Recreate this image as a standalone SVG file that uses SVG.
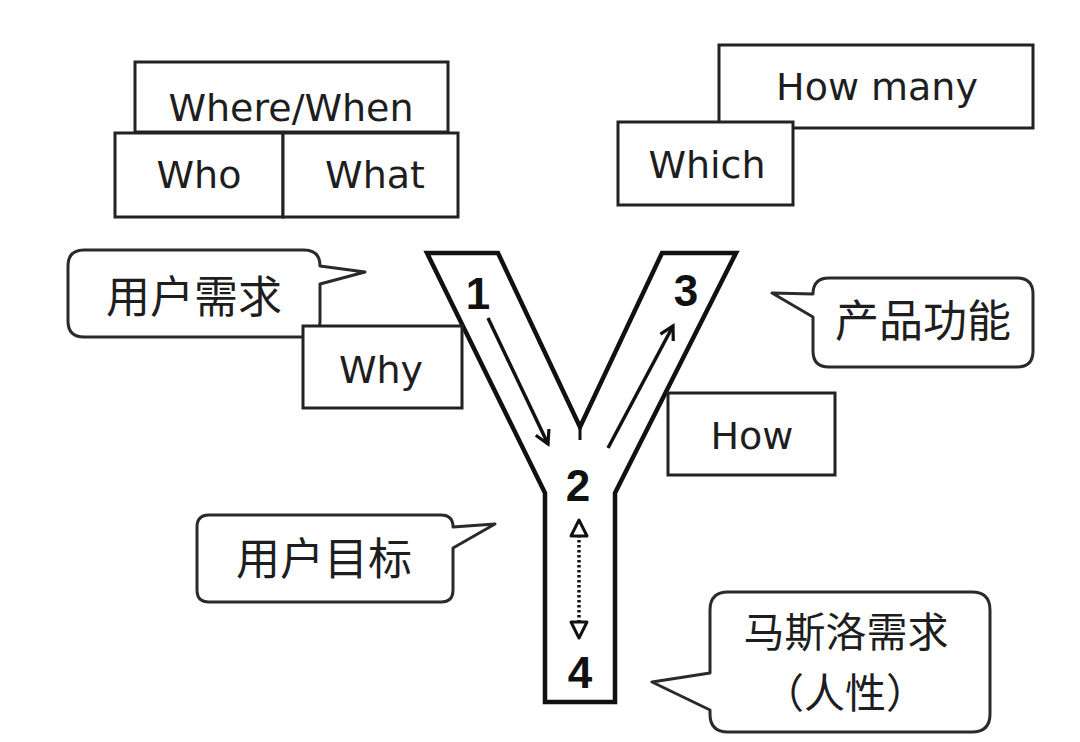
<svg xmlns="http://www.w3.org/2000/svg" width="1080" height="742" viewBox="0 0 1080 742">
<style>
.box{fill:#fff;stroke:#222;stroke-width:3}
.bub{fill:#fff;stroke:#2a2a2a;stroke-width:3;stroke-linejoin:round}
.en{font-family:"DejaVu Sans",Verdana,sans-serif;font-size:38px;fill:#1e1e1e;text-anchor:middle}
.cn{font-family:"Noto Sans CJK SC","Noto Sans",sans-serif;font-size:44px;fill:#1e1e1e;text-anchor:middle}
.cn2{font-family:"Noto Sans CJK SC","Noto Sans",sans-serif;font-size:41px;fill:#1e1e1e;text-anchor:middle}
.num{font-family:"Liberation Sans",Arial,sans-serif;font-weight:bold;font-size:44px;fill:#111;text-anchor:middle}
.arr{stroke:#111;stroke-width:3.5;fill:none}
</style>
<defs>
<marker id="vhead" viewBox="0 0 12 12" refX="10" refY="6" markerWidth="5" markerHeight="5" orient="auto" markerUnits="strokeWidth">
<path d="M1,1 L10,6 L1,11" fill="none" stroke="#111" stroke-width="2.2"/>
</marker>
</defs>
<rect width="1080" height="742" fill="#fff"/>

<g id="where-when"><rect class="box" x="135" y="62" width="313" height="70"/><text class="en" x="291" y="121">Where/When</text></g>
<g id="who"><rect class="box" x="115" y="133" width="168" height="84"/><text class="en" x="199" y="188">Who</text></g>
<g id="what"><rect class="box" x="283" y="133" width="175" height="84"/><text class="en" x="375" y="188">What</text></g>

<g id="how-many"><rect class="box" x="719" y="45" width="314" height="83"/><text class="en" x="877" y="100">How many</text></g>
<g id="which"><rect class="box" x="618" y="122" width="175" height="83"/><text class="en" x="707" y="178">Which</text></g>

<g id="y-shape">
<polygon points="427,253 498,253 580,427 662,253 736,253 615,493 615,702 545,702 545,493" fill="#fff" stroke="#111" stroke-width="4.5" stroke-linejoin="miter"/>
<line x1="580" y1="427" x2="580" y2="440" stroke="#111" stroke-width="3"/>
<text class="num" x="478" y="309">1</text>
<text class="num" x="578" y="501">2</text>
<text class="num" x="686" y="306">3</text>
<text class="num" x="580" y="688">4</text>
</g>

<g id="bubble-user-need">
<path class="bub" d="M84,250 H304 Q320,250 320,266 L365,272 L320,284 V321 Q320,337 304,337 H84 Q68,337 68,321 V266 Q68,250 84,250 Z"/>
<text class="cn" x="194" y="313">用户需求</text>
</g>
<g id="why"><rect class="box" x="303" y="326" width="159" height="82"/><text class="en" x="381" y="383">Why</text></g>
<g id="how"><rect class="box" x="668" y="393" width="167" height="82"/><text class="en" x="752" y="449">How</text></g>

<g id="bubble-product">
<path class="bub" d="M829,278 H1017 Q1033,278 1033,294 V351 Q1033,367 1017,367 H829 Q813,367 813,351 V317 L772,293 L813,294 Q813,278 829,278 Z"/>
<text class="cn" x="923" y="337">产品功能</text>
</g>
<g id="bubble-user-goal">
<path class="bub" d="M209,515 H441 Q453,515 453,527 L495,524 L453,548 V590 Q453,602 441,602 H209 Q197,602 197,590 V527 Q197,515 209,515 Z"/>
<text class="cn" x="324" y="575">用户目标</text>
</g>
<g id="bubble-maslow">
<path class="bub" d="M728,592 H972 Q990,592 990,610 V714 Q990,732 972,732 H728 Q710,732 710,714 V710 L652,682 L710,673 V610 Q710,592 728,592 Z"/>
<text class="cn2" x="846" y="647">马斯洛需求</text>
<text class="cn2" x="845" y="708">（人性）</text>
</g>

<g id="connectors">
<line class="arr" x1="488" y1="318" x2="548" y2="444" marker-end="url(#vhead)"/>
<line class="arr" x1="608" y1="448" x2="673" y2="326" marker-end="url(#vhead)"/>
<line x1="579" y1="535" x2="579" y2="622" stroke="#111" stroke-width="3.5" stroke-dasharray="2.5,2.5"/>
<polygon points="579,520 571,536 587,536" fill="#fff" stroke="#111" stroke-width="3" stroke-linejoin="round"/>
<polygon points="579,638 571,622 587,622" fill="#fff" stroke="#111" stroke-width="3" stroke-linejoin="round"/>
</g>
</svg>
